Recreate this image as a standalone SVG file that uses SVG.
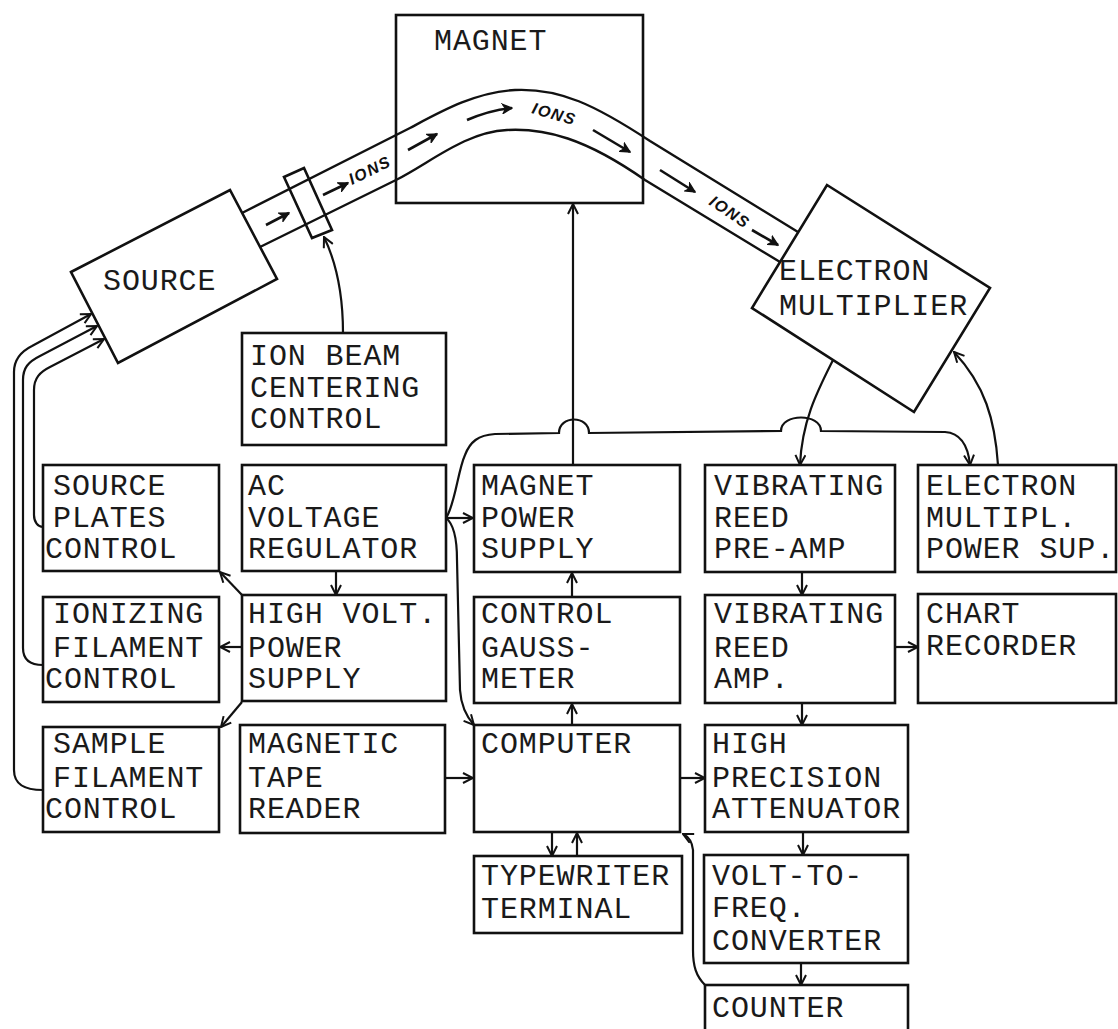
<svg xmlns="http://www.w3.org/2000/svg" width="1118" height="1029" viewBox="0 0 1118 1029">
<defs>
<marker id="ah" viewBox="0 0 12 12" refX="11" refY="6" markerWidth="12" markerHeight="12" markerUnits="userSpaceOnUse" orient="auto">
<path d="M1,1 L11,6 L1,11" fill="none" stroke="#111" stroke-width="2"/>
</marker>
<marker id="ion" viewBox="0 0 12 12" refX="11" refY="6" markerWidth="11" markerHeight="11" markerUnits="userSpaceOnUse" orient="auto">
<path d="M1,1 L11,6 L1,11 L4,6 Z" fill="#111" stroke="#111" stroke-width="1.5"/>
</marker>
</defs>
<style>
.box{fill:none;stroke:#111;stroke-width:2.6}
.t{font-family:"Liberation Mono","Courier New",monospace;font-size:30px;letter-spacing:0.9px;fill:#1a1a1a}
.c{fill:none;stroke:#111;stroke-width:2.2}
.a{marker-end:url(#ah)}
.ia{fill:none;stroke:#111;stroke-width:2.6;marker-end:url(#ion)}
.il{font-family:"Liberation Sans",Arial,sans-serif;font-size:16px;font-style:italic;font-weight:bold;letter-spacing:1.5px;fill:#111}
.tube{fill:none;stroke:#111;stroke-width:2.4}
</style>
<rect width="1118" height="1029" fill="#fff"/>

<g id="beam">
<path class="tube" d="M242,213 L410,128 C440,112 475,92 515,90 C560,88 595,105 650,141 L798,232"/>
<path class="tube" d="M260,247 L396,180 C430,163 465,132 507,130 C545,128 585,138 645,180 L780,262"/>
<path class="ia" d="M266,225 L289,213"/>
<path class="ia" d="M323,195 L348,183"/>
<text class="il" transform="translate(352,185) rotate(-26)">IONS</text>
<path class="ia" d="M408,150 L437,134"/>
<path class="ia" d="M467,120 Q490,110 512,108"/>
<text class="il" transform="translate(531,113) rotate(16)">IONS</text>
<path class="ia" d="M593,130 L630,152"/>
<path class="ia" d="M660,170 L695,192"/>
<text class="il" transform="translate(708,204) rotate(34)">IONS</text>
<path class="ia" d="M752,230 L778,245"/>
</g>

<g id="magnet">
<rect class="box" x="396" y="15" width="247" height="188"/>
<text class="t" x="434" y="50">MAGNET</text>
</g>
<g id="source">
<polygon class="box" points="71,272 230,190 277,279 118,363"/>
<text class="t" x="103" y="290">SOURCE</text>
</g>
<g id="ring">
<polygon class="box" points="284,177 304,168 332,230 312,238"/>
</g>
<g id="electron-multiplier">
<polygon class="box" points="827,185 990,288 914,412 752,308"/>
<text class="t" x="779" y="280">ELECTRON</text>
<text class="t" x="779" y="315">MULTIPLIER</text>
</g>
<g id="ion-beam-centering">
<rect class="box" x="242" y="333" width="204" height="112"/>
<text class="t" x="250" y="365">ION BEAM</text>
<text class="t" x="250" y="397">CENTERING</text>
<text class="t" x="250" y="428">CONTROL</text>
</g>

<g id="source-plates">
<rect class="box" x="43" y="465" width="176" height="106"/>
<text class="t" x="53" y="495">SOURCE</text><text class="t" x="53" y="527">PLATES</text><text class="t" x="45" y="558">CONTROL</text>
</g>
<g id="ac-regulator">
<rect class="box" x="242" y="465" width="204" height="106"/>
<text class="t" x="248" y="495">AC</text><text class="t" x="248" y="527">VOLTAGE</text><text class="t" x="248" y="558">REGULATOR</text>
</g>
<g id="magnet-power">
<rect class="box" x="474" y="465" width="206" height="107"/>
<text class="t" x="481" y="495">MAGNET</text><text class="t" x="481" y="527">POWER</text><text class="t" x="481" y="558">SUPPLY</text>
</g>
<g id="vr-preamp">
<rect class="box" x="705" y="465" width="190" height="107"/>
<text class="t" x="714" y="495">VIBRATING</text><text class="t" x="714" y="527">REED</text><text class="t" x="714" y="558">PRE-AMP</text>
</g>
<g id="em-power">
<rect class="box" x="918" y="465" width="198" height="107"/>
<text class="t" x="926" y="495">ELECTRON</text><text class="t" x="926" y="527">MULTIPL.</text><text class="t" x="926" y="558">POWER SUP.</text>
</g>

<g id="ionizing">
<rect class="box" x="43" y="597" width="176" height="105"/>
<text class="t" x="53" y="623">IONIZING</text><text class="t" x="53" y="657">FILAMENT</text><text class="t" x="45" y="688">CONTROL</text>
</g>
<g id="high-volt">
<rect class="box" x="242" y="595" width="204" height="106"/>
<text class="t" x="248" y="623">HIGH VOLT.</text><text class="t" x="248" y="657">POWER</text><text class="t" x="248" y="688">SUPPLY</text>
</g>
<g id="gaussmeter">
<rect class="box" x="474" y="597" width="206" height="106"/>
<text class="t" x="481" y="623">CONTROL</text><text class="t" x="481" y="657">GAUSS-</text><text class="t" x="481" y="688">METER</text>
</g>
<g id="vr-amp">
<rect class="box" x="705" y="595" width="190" height="108"/>
<text class="t" x="714" y="623">VIBRATING</text><text class="t" x="714" y="657">REED</text><text class="t" x="714" y="688">AMP.</text>
</g>
<g id="chart">
<rect class="box" x="918" y="594" width="198" height="109"/>
<text class="t" x="926" y="623">CHART</text><text class="t" x="926" y="655">RECORDER</text>
</g>

<g id="sample">
<rect class="box" x="43" y="727" width="176" height="105"/>
<text class="t" x="53" y="753">SAMPLE</text><text class="t" x="53" y="787">FILAMENT</text><text class="t" x="45" y="818">CONTROL</text>
</g>
<g id="tape">
<rect class="box" x="240" y="725" width="205" height="108"/>
<text class="t" x="248" y="753">MAGNETIC</text><text class="t" x="248" y="787">TAPE</text><text class="t" x="248" y="818">READER</text>
</g>
<g id="computer">
<rect class="box" x="474" y="725" width="206" height="107"/>
<text class="t" x="481" y="753">COMPUTER</text>
</g>
<g id="attenuator">
<rect class="box" x="705" y="725" width="203" height="107"/>
<text class="t" x="712" y="753">HIGH</text><text class="t" x="712" y="787">PRECISION</text><text class="t" x="712" y="818">ATTENUATOR</text>
</g>
<g id="typewriter">
<rect class="box" x="474" y="856" width="208" height="77"/>
<text class="t" x="481" y="885">TYPEWRITER</text><text class="t" x="481" y="918">TERMINAL</text>
</g>
<g id="vtf">
<rect class="box" x="704" y="855" width="204" height="108"/>
<text class="t" x="712" y="885">VOLT-TO-</text><text class="t" x="712" y="917">FREQ.</text><text class="t" x="712" y="950">CONVERTER</text>
</g>
<g id="counter">
<rect class="box" x="705" y="985" width="203" height="60"/>
<text class="t" x="712" y="1017">COUNTER</text>
</g>

<g id="connectors">
<path class="c a" d="M343,333 C343,295 336,262 324,237"/>
<path class="c a" d="M43,790 C25,790 14,785 14,770 L14,372 C14,360 20,352 32,346 L91,314"/>
<path class="c a" d="M43,665 C30,665 23,660 23,648 L23,380 C23,368 28,362 40,356 L97,326"/>
<path class="c a" d="M43,527 C38,527 34,522 34,515 L34,390 C34,378 40,372 50,367 L104,339"/>
<path class="c a" d="M573,465 L573,204"/>
<path class="c a" d="M833,360 C818,390 802,420 800,465"/>
<path class="c a" d="M998,465 C995,420 985,385 954,352"/>
<path class="c a" d="M446,518 C455,505 458,470 465,455 C470,442 478,435 495,434 L559,433 C559,415 589,415 589,433 L781,431 C781,413 821,413 821,431 L945,432 C960,433 968,445 970,465"/>
<path class="c a" d="M446,518 C455,525 457,545 457,560 L460,690 C461,705 465,715 474,725"/>
<path class="c a" d="M446,518 L473,518"/>
<path class="c a" d="M336,571 L336,595"/>
<path class="c a" d="M242,647 L220,647"/>
<path class="c a" d="M242,595 L220,572"/>
<path class="c a" d="M242,702 L221,727"/>
<path class="c a" d="M445,778 L473,778"/>
<path class="c a" d="M680,778 L705,778"/>
<path class="c a" d="M572,597 L572,573"/>
<path class="c a" d="M572,725 L572,704"/>
<path class="c a" d="M802,572 L802,595"/>
<path class="c a" d="M802,703 L802,725"/>
<path class="c a" d="M895,647 L918,647"/>
<path class="c a" d="M803,832 L803,855"/>
<path class="c a" d="M801,963 L801,985"/>
<path class="c a" d="M552,832 L552,856"/>
<path class="c a" d="M577,856 L577,833"/>
<path class="c a" d="M705,985 C696,976 693,966 693,950 L693,850 C692,841 689,837 683,834"/>
</g>
</svg>
